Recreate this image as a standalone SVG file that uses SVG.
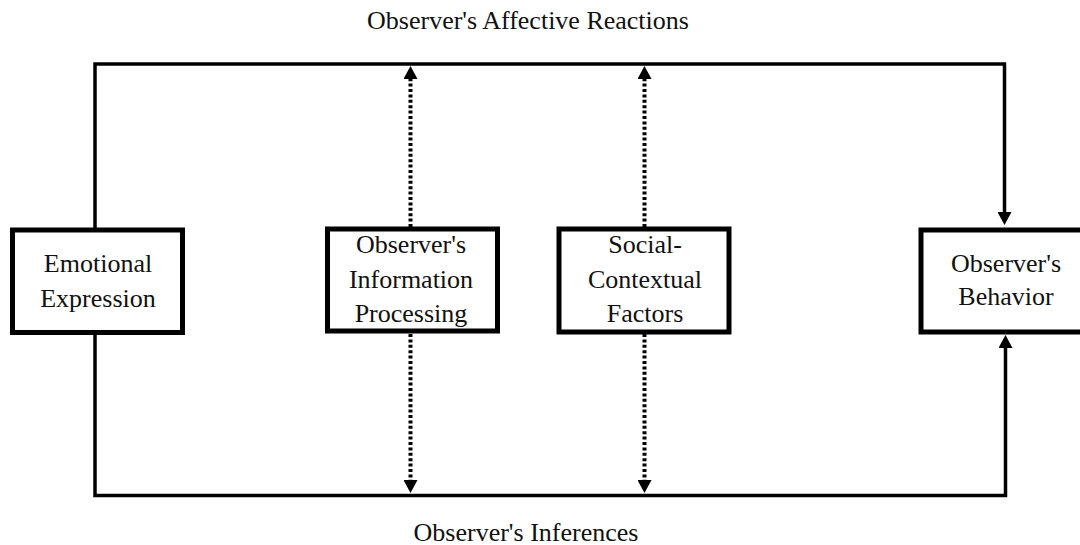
<svg xmlns="http://www.w3.org/2000/svg" width="1080" height="545" viewBox="0 0 1080 545">
<style>
.box{fill:#fff;stroke:#000;stroke-width:5}
text{font-family:"Liberation Serif","Times New Roman",serif;font-size:26px;fill:#111;text-anchor:middle}
.solid{fill:none;stroke:#000;stroke-width:3.5}
.dot{fill:none;stroke:#000;stroke-width:4;stroke-dasharray:3 2.4}
</style>
<defs>
<marker id="ah" markerUnits="userSpaceOnUse" markerWidth="14" markerHeight="14" refX="5" refY="7" orient="auto">
<path d="M0,0 L13,7 L0,14 z" fill="#000"/>
</marker>
</defs>
<rect width="1080" height="545" fill="#fff"/>
<g id="connectors">
<path class="solid" d="M95,230 V64 H1004.5 V217" marker-end="url(#ah)"/>
<path class="solid" d="M95,333 V495.5 H1005.5 V343" marker-end="url(#ah)"/>
<path class="dot" d="M410.5,227 V74" marker-end="url(#ah)"/>
<path class="dot" d="M410.5,334 V485" marker-end="url(#ah)"/>
<path class="dot" d="M644.5,227 V74" marker-end="url(#ah)"/>
<path class="dot" d="M644.5,334 V485" marker-end="url(#ah)"/>
</g>
<g font-family="Liberation Serif, serif" font-size="26" text-anchor="middle">
<g id="label-affective">
<text x="528" y="29">Observer's Affective Reactions</text>
</g>
<g id="label-inferences">
<text x="526" y="541">Observer's Inferences</text>
</g>
<g id="emotional-expression">
<rect class="box" x="12.5" y="230" width="170" height="102.5"/>
<text x="98" y="272">Emotional</text>
<text x="98" y="307">Expression</text>
</g>
<g id="information-processing">
<rect class="box" x="327.5" y="229" width="170" height="102"/>
<text x="411" y="253">Observer's</text>
<text x="411" y="288">Information</text>
<text x="411" y="322">Processing</text>
</g>
<g id="social-contextual">
<rect class="box" x="559" y="229" width="170" height="103"/>
<text x="645" y="253">Social-</text>
<text x="645" y="288">Contextual</text>
<text x="645" y="322">Factors</text>
</g>
<g id="observer-behavior">
<rect class="box" x="921" y="230" width="170" height="102"/>
<text x="1006" y="272">Observer's</text>
<text x="1006" y="305">Behavior</text>
</g>
</g>
</svg>
